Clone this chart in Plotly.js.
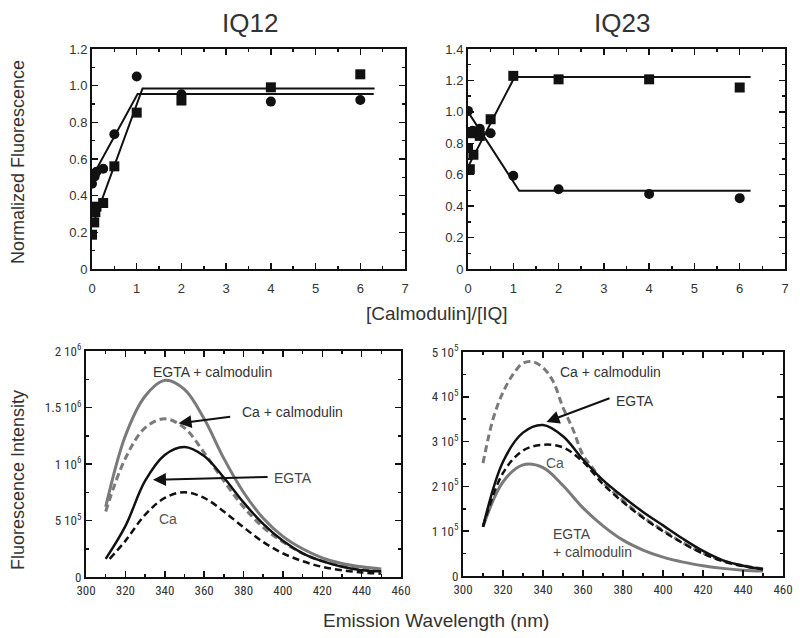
<!DOCTYPE html>
<html><head><meta charset="utf-8">
<script src="https://cdn.plot.ly/plotly-3.0.1.min.js"></script>
<style>html,body{margin:0;padding:0;background:#fff}#chart{width:800px;height:638px}</style>
</head><body><div id="chart"></div>
<script>
// ---- IQ12 titration ----
const iq12CircX = [0, 0.06, 0.1, 0.25, 0.5, 1, 2, 4, 6];
const iq12CircY = [0.465, 0.505, 0.53, 0.547, 0.735, 1.05, 0.953, 0.913, 0.922];
const iq12SqX = [0, 0.05, 0.075, 0.1, 0.25, 0.5, 1, 2, 4, 6];
const iq12SqY = [0.187, 0.254, 0.31, 0.34, 0.36, 0.56, 0.853, 0.919, 0.991, 1.062];
const iq12CircFitX = [0, 1.02, 6.3];
const iq12CircFitY = [0.50, 0.955, 0.955];
const iq12SqFitX = [0, 1.13, 6.32];
const iq12SqFitY = [0.23, 0.985, 0.985];
// ---- IQ23 titration ----
const iq23CircX = [0, 0.1, 0.26, 0.5, 1, 2, 4, 6];
const iq23CircY = [1.006, 0.88, 0.892, 0.864, 0.593, 0.508, 0.477, 0.451];
const iq23SqX = [0, 0.04, 0.07, 0.12, 0.26, 0.5, 1, 2, 4, 6];
const iq23SqY = [0.769, 0.635, 0.864, 0.727, 0.847, 0.953, 1.229, 1.207, 1.207, 1.155];
const iq23CircFitX = [0, 1.13, 6.24];
const iq23CircFitY = [1.0, 0.498, 0.498];
const iq23SqFitX = [0, 1.03, 6.24];
const iq23SqFitY = [0.65, 1.222, 1.222];
// ---- Emission spectra ----
const wl = [310, 320, 330, 340, 350, 360, 370, 380, 390, 400, 410, 420, 430, 440, 450];
const wlCa12 = [312, 320, 330, 340, 350, 360, 370, 380, 390, 400, 410, 420, 430, 440, 450];
const iq12EgtaCam = [0.62e6, 1.25e6, 1.60e6, 1.74e6, 1.66e6, 1.40e6, 1.05e6, 0.75e6, 0.52e6, 0.36e6, 0.25e6, 0.17e6, 0.12e6, 0.09e6, 0.07e6];
const iq12CaCam = [0.58e6, 1.05e6, 1.32e6, 1.40e6, 1.32e6, 1.10e6, 0.85e6, 0.62e6, 0.44e6, 0.31e6, 0.21e6, 0.14e6, 0.10e6, 0.07e6, 0.06e6];
const iq12Egta = [0.16e6, 0.45e6, 0.85e6, 1.08e6, 1.15e6, 1.07e6, 0.88e6, 0.66e6, 0.47e6, 0.32e6, 0.21e6, 0.14e6, 0.09e6, 0.06e6, 0.05e6];
const iq12Ca = [0.16e6, 0.32e6, 0.55e6, 0.70e6, 0.75e6, 0.70e6, 0.58e6, 0.44e6, 0.31e6, 0.21e6, 0.14e6, 0.09e6, 0.06e6, 0.04e6, 0.03e6];
const wlCaCam23 = [310, 315, 320, 325, 330, 335, 340, 345, 350, 355, 360, 365, 370, 380, 390, 400, 410, 420, 430, 440, 450];
const iq23CaCam = [2.52e5, 3.5e5, 4.1e5, 4.5e5, 4.75e5, 4.78e5, 4.65e5, 4.35e5, 3.76e5, 3.27e5, 2.7e5, 2.4e5, 2.1e5, 1.68e5, 1.32e5, 1.02e5, 0.74e5, 0.51e5, 0.34e5, 0.23e5, 0.16e5];
const iq23Egta = [1.1e5, 2.55e5, 3.2e5, 3.37e5, 3.12e5, 2.6e5, 2.14e5, 1.77e5, 1.43e5, 1.13e5, 0.83e5, 0.56e5, 0.35e5, 0.23e5, 0.15e5];
const iq23Ca = [1.1e5, 2.3e5, 2.8e5, 2.93e5, 2.87e5, 2.55e5, 2.05e5, 1.65e5, 1.3e5, 1.0e5, 0.73e5, 0.5e5, 0.33e5, 0.22e5, 0.15e5];
const iq23EgtaCam = [1.1e5, 2.1e5, 2.48e5, 2.42e5, 2.02e5, 1.52e5, 1.12e5, 0.80e5, 0.58e5, 0.42e5, 0.31e5, 0.23e5, 0.17e5, 0.13e5, 0.11e5];
// ---- tick labels ----
const topXTicks = [0, 1, 2, 3, 4, 5, 6, 7];
const iq12YVals = [0, 0.2, 0.4, 0.6, 0.8, 1.0, 1.2];
const iq12YText = ['0', '0.2', '0.4', '0.6', '0.8', '1.0', '1.2'];
const iq23YVals = [0, 0.2, 0.4, 0.6, 0.8, 1.0, 1.2, 1.4];
const iq23YText = ['0', '0.2', '0.4', '0.6', '0.8', '1.0', '1.2', '1.4'];
const specXTicks = [300, 320, 340, 360, 380, 400, 420, 440, 460];
const iq12SpecYVals = [0, 5e5, 1e6, 1.5e6, 2e6];
const iq12SpecYText = ['0', '5 10<sup>5</sup>', '1 10<sup>6</sup>', '1.5 10<sup>6</sup>', '2 10<sup>6</sup>'];
const iq23SpecYVals = [0, 1e5, 2e5, 3e5, 4e5, 5e5];
const iq23SpecYText = ['0', '1 10<sup>5</sup>', '2 10<sup>5</sup>', '3 10<sup>5</sup>', '4 10<sup>5</sup>', '5 10<sup>5</sup>'];

const BLACK = '#111';
const GRAY = '#7a7a7a';
const FONT = 'Liberation Sans, Arial, sans-serif';
const NARROW = 'Liberation Sans Narrow, Roboto Condensed, Liberation Sans, sans-serif';

function mk(x, y, xa, ya, sym) {
  return {x, y, xaxis: xa, yaxis: ya, mode: 'markers', type: 'scatter',
    marker: {symbol: sym, size: 10, color: BLACK}, showlegend: false, hoverinfo: 'skip'};
}
function ln(x, y, xa, ya, color, dash, width, shape) {
  return {x, y, xaxis: xa, yaxis: ya, mode: 'lines', type: 'scatter',
    line: {color, dash: dash || 'solid', width: width || 2, shape: shape || 'linear', smoothing: 1},
    showlegend: false, hoverinfo: 'skip'};
}

const traces = [
  ln(iq12CircFitX, iq12CircFitY, 'x', 'y', BLACK, 'solid', 2),
  ln(iq12SqFitX, iq12SqFitY, 'x', 'y', BLACK, 'solid', 2),
  mk(iq12CircX, iq12CircY, 'x', 'y', 'circle'),
  mk(iq12SqX, iq12SqY, 'x', 'y', 'square'),
  ln(iq23CircFitX, iq23CircFitY, 'x2', 'y2', BLACK, 'solid', 2),
  ln(iq23SqFitX, iq23SqFitY, 'x2', 'y2', BLACK, 'solid', 2),
  mk(iq23CircX, iq23CircY, 'x2', 'y2', 'circle'),
  mk(iq23SqX, iq23SqY, 'x2', 'y2', 'square'),
  ln(wl, iq12EgtaCam, 'x3', 'y3', GRAY, 'solid', 3, 'spline'),
  ln(wl, iq12CaCam, 'x3', 'y3', GRAY, '7px,4px', 3, 'spline'),
  ln(wl, iq12Egta, 'x3', 'y3', BLACK, 'solid', 2.5, 'spline'),
  ln(wlCa12, iq12Ca, 'x3', 'y3', BLACK, '7px,4px', 2.5, 'spline'),
  ln(wlCaCam23, iq23CaCam, 'x4', 'y4', GRAY, '7px,4px', 3, 'spline'),
  ln(wl, iq23EgtaCam, 'x4', 'y4', GRAY, 'solid', 3, 'spline'),
  ln(wl, iq23Ca, 'x4', 'y4', BLACK, '7px,4px', 2.5, 'spline'),
  ln(wl, iq23Egta, 'x4', 'y4', BLACK, 'solid', 2.5, 'spline')
];

const tickFont = {family: FONT, size: 13, color: '#333'};
function ax(extra) {
  return Object.assign({
    showline: true, linecolor: BLACK, linewidth: 2, mirror: 'allticks',
    ticks: 'inside', ticklen: 6, tickwidth: 1.5, tickcolor: BLACK,
    showgrid: false, zeroline: false, tickfont: tickFont, tickmode: 'array',
    fixedrange: true
  }, extra);
}

const pxX = v => v / 800;
const pxY = v => 1 - v / 638;
function lbl(text, x, y, size, angle) {
  return {text, xref: 'paper', yref: 'paper', x: pxX(x), y: pxY(y), xanchor: 'center', yanchor: 'middle',
    textangle: angle || 0, showarrow: false, font: {size, color: '#333'}};
}
function note(text, xr, yr, x, y, color) {
  return {text, xref: xr, yref: yr, x, y, xanchor: 'center', yanchor: 'middle', showarrow: false,
    font: {size: 14, color: color || '#333'}};
}
function arrow(xr, yr, x, y, axv, ayv) {
  return {text: '', xref: xr, yref: yr, axref: xr, ayref: yr, x, y, ax: axv, ay: ayv, showarrow: true,
    arrowhead: 2, arrowsize: 1.3, arrowwidth: 2, arrowcolor: BLACK};
}

const layout = {
  width: 800, height: 638, margin: {l: 0, r: 0, t: 0, b: 0},
  paper_bgcolor: '#fff', plot_bgcolor: '#fff', font: {family: FONT, color: '#333'},
  xaxis: ax({domain: [pxX(92), pxX(405)], range: [0, 7], tickvals: topXTicks, anchor: 'y', ticklabelstandoff: 6,
    minor: {dtick: 0.5, ticks: 'inside', ticklen: 3, tickcolor: BLACK}}),
  yaxis: ax({domain: [pxY(269), pxY(49)], range: [0, 1.2], tickvals: iq12YVals, ticktext: iq12YText, anchor: 'x',
    minor: {dtick: 0.1, ticks: 'inside', ticklen: 3, tickcolor: BLACK}}),
  xaxis2: ax({domain: [pxX(468), pxX(785)], range: [0, 7], tickvals: topXTicks, anchor: 'y2', ticklabelstandoff: 6,
    minor: {dtick: 0.5, ticks: 'inside', ticklen: 3, tickcolor: BLACK}}),
  yaxis2: ax({domain: [pxY(269), pxY(49)], range: [0, 1.4], tickvals: iq23YVals, ticktext: iq23YText, anchor: 'x2',
    minor: {dtick: 0.1, ticks: 'inside', ticklen: 3, tickcolor: BLACK}}),
  xaxis3: ax({domain: [pxX(86), pxX(401)], range: [300, 460], tickvals: specXTicks, anchor: 'y3',
    tickfont: {family: NARROW, size: 13, color: '#333'},
    minor: {dtick: 10, ticks: 'inside', ticklen: 3, tickcolor: BLACK}}),
  yaxis3: ax({domain: [pxY(577), pxY(351)], range: [0, 2e6], tickvals: iq12SpecYVals, ticktext: iq12SpecYText, anchor: 'x3',
    tickfont: {family: NARROW, size: 13, color: '#333'},
    minor: {dtick: 2.5e5, ticks: 'inside', ticklen: 3, tickcolor: BLACK}}),
  xaxis4: ax({domain: [pxX(463), pxX(783)], range: [300, 460], tickvals: specXTicks, anchor: 'y4',
    tickfont: {family: NARROW, size: 13, color: '#333'},
    minor: {dtick: 10, ticks: 'inside', ticklen: 3, tickcolor: BLACK}}),
  yaxis4: ax({domain: [pxY(576), pxY(352)], range: [0, 5e5], tickvals: iq23SpecYVals, ticktext: iq23SpecYText, anchor: 'x4',
    tickfont: {family: NARROW, size: 13, color: '#333'},
    minor: {dtick: 0.5e5, ticks: 'inside', ticklen: 3, tickcolor: BLACK}}),
  annotations: [
    lbl('IQ12', 250, 23, 26),
    lbl('IQ23', 622, 23, 26),
    lbl('Normalized Fluorescence', 18, 162, 18, -90),
    lbl('Fluorescence Intensity', 18, 480, 18, -90),
    lbl('[Calmodulin]/[IQ]', 437, 313, 19),
    lbl('Emission Wavelength (nm)', 436, 620, 19),
    // bottom-left labels
    note('EGTA + calmodulin', 'x3', 'y3', 364, 1.81e6),
    note('Ca + calmodulin', 'x3', 'y3', 405, 1.46e6),
    arrow('x3', 'y3', 347, 1.36e6, 374, 1.42e6),
    note('EGTA', 'x3', 'y3', 405, 0.88e6, '#444'),
    arrow('x3', 'y3', 334, 0.86e6, 393, 0.885e6),
    note('Ca', 'x3', 'y3', 341.6, 0.515e6, '#555'),
    // bottom-right labels
    note('Ca + calmodulin', 'x4', 'y4', 373.7, 4.55e5),
    note('EGTA', 'x4', 'y4', 385.8, 3.9e5),
    arrow('x4', 'y4', 341.7, 3.44e5, 374, 3.98e5),
    note('Ca', 'x4', 'y4', 345.8, 2.52e5, '#555'),
    Object.assign(note('EGTA<br>+ calmodulin', 'x4', 'y4', 344, 0.74e5, '#444'), {xanchor: 'left', align: 'left'})
  ]
};

Plotly.newPlot('chart', traces, layout, {staticPlot: true, displayModeBar: false});
</script>
</body></html>
